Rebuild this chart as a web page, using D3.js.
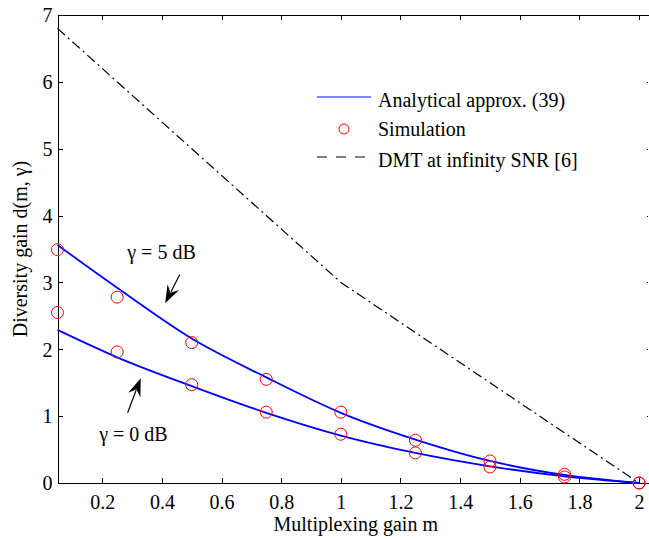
<!DOCTYPE html>
<meta charset="utf-8">
<script src="https://d3js.org/d3.v7.min.js"></script>
<style>
  body { margin: 0; background: #fff; }
  text { font-family: "Liberation Serif", "Times New Roman", serif; fill: #000; }
</style>
<body>
<div id="canvas"></div>
<script>
// valores
var m = [0.05, 0.25, 0.5, 0.75, 1, 1.25, 1.5, 1.75, 2];
var analytic5dB = [3.56, 2.92, 2.16, 1.58, 1.05, 0.65, 0.33, 0.12, 0];
var analytic0dB = [2.29, 1.88, 1.45, 1.05, 0.71, 0.45, 0.25, 0.10, 0];
var sim5dB = [3.49, 2.78, 2.10, 1.55, 1.06, 0.64, 0.33, 0.13, 0];
var sim0dB = [2.55, 1.96, 1.47, 1.06, 0.73, 0.45, 0.24, 0.09, 0];
var dmtM = [0.05, 1, 2];
var dmtD = [6.8, 3, 0];
var xTicks = [0.2, 0.4, 0.6, 0.8, 1, 1.2, 1.4, 1.6, 1.8, 2];
var yTicks = [0, 1, 2, 3, 4, 5, 6, 7];

var width = 649, height = 539;
var svg = d3.select('#canvas').append('svg')
    .attr('width', width).attr('height', height);

var margin = {top: 15, right: -5, bottom: 56, left: 57.5};
var x = d3.scaleLinear().domain([0.05, 2.05]).range([margin.left, width - margin.right]);
var y = d3.scaleLinear().domain([0, 7]).range([height - margin.bottom, margin.top]);

// eixos com ticks para dentro
var fmt = function(d){ return String(d); };
var gx = svg.append('g').attr('transform', 'translate(0,' + y(0) + ')')
    .call(d3.axisBottom(x).tickValues(xTicks).tickFormat(fmt).tickSizeInner(-5).tickSizeOuter(0).tickPadding(12));
var gxt = svg.append('g').attr('transform', 'translate(0,' + y(7) + ')')
    .call(d3.axisTop(x).tickValues(xTicks).tickFormat('').tickSizeInner(-5).tickSizeOuter(0));
var gy = svg.append('g').attr('transform', 'translate(' + x(0.05) + ',0)')
    .call(d3.axisLeft(y).tickValues(yTicks).tickFormat(fmt).tickSizeInner(-5).tickSizeOuter(0).tickPadding(5));
var gyr = svg.append('g').attr('transform', 'translate(' + (x(2.05) - 6) + ',0)')
    .call(d3.axisRight(y).tickValues(yTicks).tickFormat('').tickSizeInner(-1).tickSizeOuter(0));
gyr.select('.domain').remove();
[gx, gxt, gy, gyr].forEach(function(g){
  g.selectAll('path, line').attr('stroke', '#000').attr('stroke-width', 1).attr('shape-rendering', 'crispEdges');
  g.selectAll('text').style('font-size', '20px').style('font-family', '"Liberation Serif", serif');
});
gx.select('.domain').attr('d', 'M' + x(0.05) + ',0H' + x(2.05));
gy.selectAll('text').attr('dy', '0.34em');

// DMT
var line = d3.line().x(function(d){ return x(d[0]); }).y(function(d){ return y(d[1]); });
svg.append('path')
    .attr('d', line(d3.zip(dmtM, dmtD)))
    .attr('fill', 'none').attr('stroke', '#000').attr('stroke-width', 1.2)
    .attr('stroke-dasharray', '10,4,2,4');

// curvas analiticas
var curve = d3.line().curve(d3.curveMonotoneX)
    .x(function(d){ return x(d[0]); }).y(function(d){ return y(d[1]); });
[analytic5dB, analytic0dB].forEach(function(s){
  svg.append('path').attr('d', curve(d3.zip(m, s)))
     .attr('fill', 'none').attr('stroke', '#0000ff').attr('stroke-width', 1.8);
});

// simulacao
[sim5dB, sim0dB].forEach(function(s){
  svg.append('g').selectAll('circle').data(d3.zip(m, s)).enter().append('circle')
     .attr('cx', function(d){ return x(d[0]); })
     .attr('cy', function(d){ return y(d[1]); })
     .attr('r', 6).attr('fill', 'none').attr('stroke', '#ff0000').attr('stroke-width', 1);
});

// anotacoes
function arrow(tail, tip) {
  var x0 = x(tail[0]), y0 = y(tail[1]), x1 = x(tip[0]), y1 = y(tip[1]);
  var dx = x1 - x0, dy = y1 - y0, len = Math.sqrt(dx*dx + dy*dy);
  var ux = dx/len, uy = dy/len, px = -uy, py = ux;
  var L = 18, w = 6.5;
  svg.append('line').attr('x1', x0).attr('y1', y0)
     .attr('x2', x1 - 0.7*L*ux).attr('y2', y1 - 0.7*L*uy)
     .attr('stroke', '#000').attr('stroke-width', 1.2);
  svg.append('path')
     .attr('d', 'M' + x1 + ',' + y1 +
        'L' + (x1 - L*ux + w*px) + ',' + (y1 - L*uy + w*py) +
        'L' + (x1 - 0.65*L*ux) + ',' + (y1 - 0.65*L*uy) +
        'L' + (x1 - L*ux - w*px) + ',' + (y1 - L*uy - w*py) + 'Z')
     .attr('fill', '#000');
}
arrow([0.46, 3.12], [0.411, 2.69]);
arrow([0.285, 1.05], [0.329, 1.566]);
svg.append('text').attr('x', x(0.284)).attr('y', y(3.35)).style('font-size', '20px').text('γ = 5 dB');
svg.append('text').attr('x', x(0.19)).attr('y', y(0.63)).style('font-size', '20px').text('γ = 0 dB');

// legenda
var lg = svg.append('g');
lg.append('line').attr('x1', 317).attr('x2', 371).attr('y1', 97).attr('y2', 97)
  .attr('stroke', '#0000ff').attr('stroke-width', 1.2);
lg.append('circle').attr('cx', 344).attr('cy', 129).attr('r', 5)
  .attr('fill', 'none').attr('stroke', '#ff0000').attr('stroke-width', 1);
lg.append('line').attr('x1', 317).attr('x2', 371).attr('y1', 157).attr('y2', 157)
  .attr('stroke', '#000').attr('stroke-width', 1).attr('stroke-dasharray', '10,9');
[['Analytical approx. (39)', 106.5], ['Simulation', 135.5], ['DMT at infinity SNR [6]', 166.5]].forEach(function(t){
  lg.append('text').attr('x', 378).attr('y', t[1]).style('font-size', '20px').text(t[0]);
});

// titulos dos eixos
svg.append('text').attr('x', x(1.05)).attr('y', 531).attr('text-anchor', 'middle')
   .style('font-size', '20px').text('Multiplexing gain m');
svg.append('text').attr('transform', 'translate(27,' + y(3.5) + ') rotate(-90)')
   .attr('text-anchor', 'middle').style('font-size', '20px').text('Diversity gain d(m, γ)');
</script>
</body>
